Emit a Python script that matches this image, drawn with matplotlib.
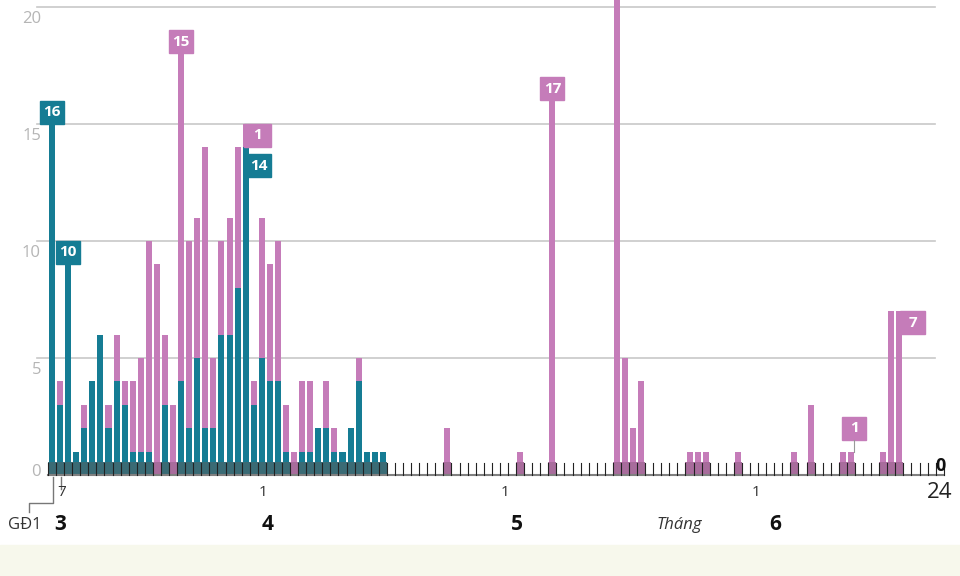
import matplotlib.pyplot as plt
import numpy as np
from matplotlib.patches import Rectangle

plt.rcParams['font.family'] = ['Open Sans', 'DejaVu Sans']

# day index 0 = GĐ1 total, 1 = 7/3, 26 = 1/4, 56 = 1/5, 87 = 1/6, 110 = 24/6
n_days = 111
teal_vals = [16, 3, 10, 1, 2, 4, 6, 2, 4, 3, 1, 1, 1, 0, 3, 0, 4, 2, 5, 2, 2,
             6, 6, 8, 14, 3, 5, 4, 4, 1, 0, 1, 1, 2, 2, 1, 1, 2, 4, 1, 1, 1]
pink_dense = [0, 1, 0, 0, 1, 0, 0, 1, 2, 1, 3, 4, 9, 9, 3, 3, 15, 8, 6, 12, 3,
              4, 5, 6, 1, 1, 6, 5, 6, 2, 1, 3, 3, 0, 2, 1, 0, 0, 1, 0, 0, 0]
pink_sparse = {49: 2, 58: 1, 62: 17, 70: 24, 71: 5, 72: 2, 73: 4, 79: 1, 80: 1,
               81: 1, 85: 1, 92: 1, 94: 3, 98: 1, 99: 1, 103: 1, 104: 7, 105: 7}

teal = np.zeros(n_days)
teal[:len(teal_vals)] = teal_vals
pink = np.zeros(n_days)
pink[:len(pink_dense)] = pink_dense
for k, v in pink_sparse.items():
    pink[k] = v

TEAL = "#157c94"
PINK = "#c57cb9"

fig = plt.figure(figsize=(9.6, 5.76), dpi=100)
ax = fig.add_axes([0, 0, 1, 1])
px_day = 8.07
px_val = 23.4
xmin = -52 / px_day
ax.set_xlim(xmin, xmin + 960 / px_day)
ymin = -101 / px_val
ax.set_ylim(ymin, ymin + 576 / px_val)
ax.axis('off')

def px(x):
    return (x - 52) / px_day

def py(y):
    return (475 - y) / px_val

# bottom band
ax.axhspan(ymin, py(545), color="#f7f8ec", zorder=0)

# grid
for g in [5, 10, 15, 20]:
    ax.plot([px(37), px(935)], [g, g], color="#c8c8c8", lw=1.2, zorder=1)
    ax.text(px(41), g - 0.15, str(g), ha='right', va='top', fontsize=12,
            color="#b5b5b5")
ax.text(px(41), py(472), "0", ha='right', va='center', fontsize=12, color="#b5b5b5")

days = np.arange(n_days)
ax.bar(days, teal, width=0.75, color=TEAL, zorder=2)
ax.bar(days, pink, width=0.75, bottom=teal, color=PINK, zorder=2)

# dark strip under bars
total = teal + pink
has = total > 0
bottom_col = np.where(teal > 0, "#3a6b75", "#a86c9c")
ax.bar(days[has], 0.55, width=1.0, color=bottom_col[has], zorder=3)

# baseline and day ticks
ax.plot([-0.5, 110.5], [0, 0], color="#808080", lw=1.5, zorder=4)
for k in range(n_days + 1):
    b = k - 0.5
    ax.plot([b, b], [0, 0.5], color="#222222", lw=0.8, zorder=4)

def box(x0, top, text, color, w=2.97, h=0.98):
    ax.add_patch(Rectangle((x0, top - h), w, h, color=color, zorder=5))
    ax.text(x0 + w / 2, top - h / 2, text, ha='center', va='center',
            color='white', fontsize=11, fontweight='bold', zorder=6)

box(0 - 1.485, teal[0], "16", TEAL)
box(2 - 1.485, teal[2], "10", TEAL)
box(16 - 1.485, total[16], "15", PINK)
box(23.8, total[24], "1", PINK, w=3.3)
box(24.2, teal[24] - 0.3, "14", TEAL)
box(62 - 1.485, total[62], "17", PINK)
box(97.9, 2.48, "1", PINK)
ax.plot([99.35, 99.35], [1.5, total[99]], color="#999999", lw=0.8, zorder=5)
box(105.1, total[105], "7", PINK, w=3.1)

# x labels
ax.plot([px(61), px(61)], [py(477), py(489)], color="#777777", lw=1)
ax.plot([px(53), px(53), px(29), px(29)],
        [py(477), py(503), py(503), py(512)], color="#777777", lw=1)
ax.text(px(25), py(525), "GĐ1", ha='center', va='center', fontsize=12, color="#333333")
ax.text(px(62), py(493), "7", ha='center', va='center', fontsize=11, color="#333333")
for x in [263, 505, 756]:
    ax.text(px(x), py(493), "1", ha='center', va='center', fontsize=11, color="#333333")
ax.text(px(940), py(492), "24", ha='center', va='center', fontsize=16, color="#222222")
ax.text(px(941), py(466), "0", ha='center', va='center', fontsize=13,
        fontweight='bold', color="#111111", zorder=6)
for x, m in [(60, "3"), (268, "4"), (517, "5"), (775, "6")]:
    ax.text(px(x), py(525), m, ha='center', va='center', fontsize=15,
            fontweight='bold', color="#111111")
ax.text(px(679), py(525), "Tháng", ha='center', va='center', fontsize=12,
        style='italic', color="#333333")

fig.savefig("out.png", dpi=100)
